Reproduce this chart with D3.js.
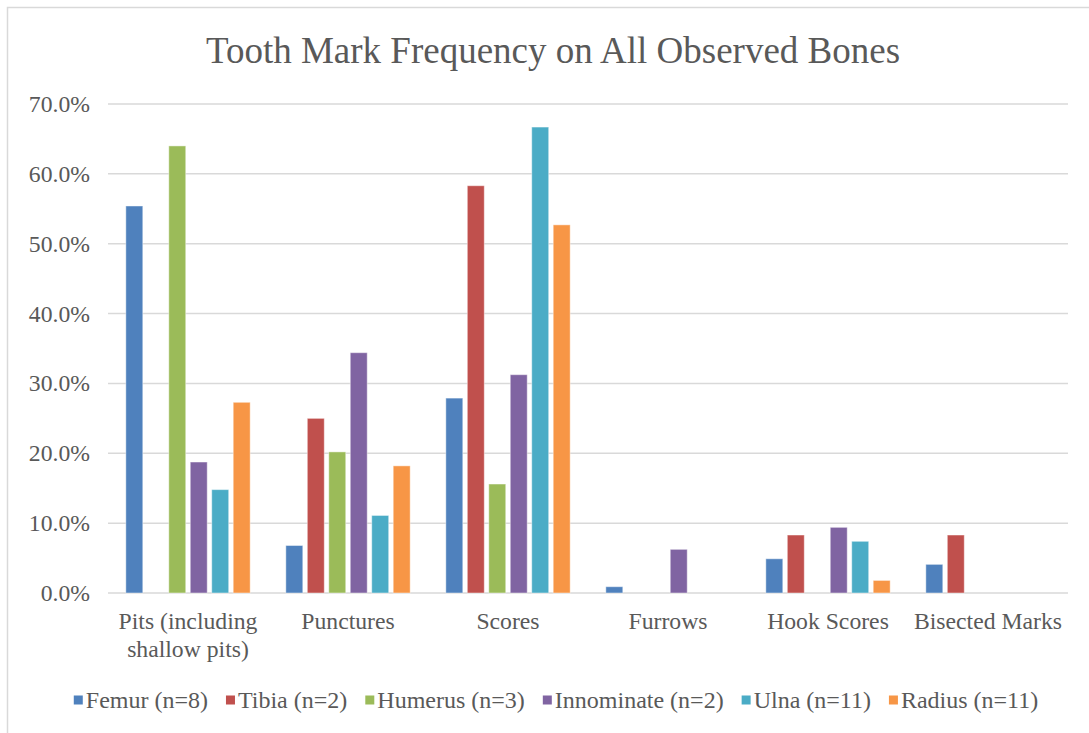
<!DOCTYPE html>
<html>
<head>
<meta charset="utf-8">
<script src="https://cdn.jsdelivr.net/npm/d3@7"></script>
<style>
  html, body { margin: 0; padding: 0; background: #fff; }
  svg { display: block; }
</style>
</head>
<body>
<svg id="chart" width="1089" height="733"></svg>
<script>
// Mark types on the x axis (each may wrap to two lines)
const categories = [
  "Pits (including shallow pits)",
  "Punctures",
  "Scores",
  "Furrows",
  "Hook Scores",
  "Bisected Marks"
];
const categoryLines = [
  ["Pits (including", "shallow pits)"],
  ["Punctures"],
  ["Scores"],
  ["Furrows"],
  ["Hook Scores"],
  ["Bisected Marks"]
];

// Bone series and their sample sizes
const seriesNames = [
  "Femur (n=8)",
  "Tibia (n=2)",
  "Humerus (n=3)",
  "Innominate (n=2)",
  "Ulna (n=11)",
  "Radius (n=11)"
];
const seriesColors = ["#4F81BD", "#C0504D", "#9BBB59", "#8064A2", "#4BACC6", "#F79646"];

// Frequency of each mark type, one array per bone (fraction of marks)
const femur      = [0.554, 0.068, 0.279, 0.009, 0.049, 0.041];
const tibia      = [0.000, 0.250, 0.583, 0.000, 0.083, 0.083];
const humerus    = [0.640, 0.202, 0.156, 0.000, 0.000, 0.000];
const innominate = [0.1875, 0.344, 0.3125, 0.0625, 0.094, 0.000];
const ulna       = [0.148, 0.111, 0.667, 0.000, 0.074, 0.000];
const radius     = [0.273, 0.182, 0.527, 0.000, 0.018, 0.000];
const seriesValues = [femur, tibia, humerus, innominate, ulna, radius];

// Y axis ticks
const yTicks = [0, 0.1, 0.2, 0.3, 0.4, 0.5, 0.6, 0.7];

const titleText = "Tooth Mark Frequency on All Observed Bones";

// ---- layout ----
const W = 1089, H = 733;
const plot = { left: 108, right: 1068, top: 104, bottom: 593 };
const FONT = '"Liberation Serif"';
const INK = "#595959";

const svg = d3.select("#chart");

// chart frame
svg.append("rect")
  .attr("x", 7.5).attr("y", 7.5)
  .attr("width", W + 20).attr("height", H + 20)
  .attr("fill", "#fff")
  .attr("stroke", "#d9d9d9").attr("stroke-width", 1.5);

const x0 = d3.scaleBand()
  .domain(categories)
  .range([plot.left, plot.right])
  .paddingInner(0).paddingOuter(0);

const x1 = d3.scaleBand()
  .domain(seriesNames)
  .range([0, x0.bandwidth()])
  .paddingInner(0.21)
  .paddingOuter(0.83);

const y = d3.scaleLinear()
  .domain([0, 0.7])
  .range([plot.bottom, plot.top]);

// helper: serif text vertically centred on yPos
function label(sel, x, yPos, size) {
  return sel
    .attr("x", x).attr("y", yPos)
    .attr("dy", "0.34em")
    .attr("font-family", FONT)
    .attr("font-size", size)
    .attr("fill", INK);
}

// gridlines
svg.append("g")
  .selectAll("line")
  .data(yTicks)
  .join("line")
  .attr("x1", plot.left).attr("x2", plot.right)
  .attr("y1", d => y(d)).attr("y2", d => y(d))
  .attr("stroke", "#d9d9d9").attr("stroke-width", 1.5);

// y tick labels
const fmt = d3.format(".1%");
svg.append("g")
  .selectAll("text")
  .data(yTicks)
  .join("text")
  .each(function(d) { label(d3.select(this), 90, y(d), 23.7); })
  .attr("text-anchor", "end")
  .text(d => fmt(d));

// bars
const groups = svg.append("g")
  .selectAll("g")
  .data(categories)
  .join("g")
  .attr("transform", d => `translate(${x0(d)},0)`);

groups.selectAll("rect")
  .data((c, ci) => seriesNames.map((s, si) => ({ s, si, v: seriesValues[si][ci] })))
  .join("rect")
  .filter(d => d.v > 0)
  .attr("x", d => x1(d.s))
  .attr("width", x1.bandwidth())
  .attr("y", d => y(d.v))
  .attr("height", d => y(0) - y(d.v))
  .attr("fill", d => seriesColors[d.si])
  .attr("stroke", "rgba(255,255,255,0.45)")
  .attr("stroke-width", 1);

// category labels
const catG = svg.append("g");
categories.forEach((c, i) => {
  const cx = x0(c) + x0.bandwidth() / 2;
  categoryLines[i].forEach((line, li) => {
    catG.append("text")
      .call(s => label(s, cx, 621 + li * 28, 23.7))
      .attr("text-anchor", "middle")
      .text(line);
  });
});

// title
svg.append("text")
  .call(s => label(s, 553, 50, 37))
  .attr("text-anchor", "middle")
  .text(titleText);

// legend
const legend = svg.append("g");
const legendItems = legend.selectAll("g")
  .data(seriesNames)
  .join("g");
legendItems.append("rect")
  .attr("width", 9).attr("height", 9)
  .attr("y", -4.5)
  .attr("fill", (d, i) => seriesColors[i]);
legendItems.append("text")
  .each(function() { label(d3.select(this), 12, 0, 24); })
  .text(d => d);

const itemGap = 18;
let cursor = 0;
legendItems.each(function() {
  const g = d3.select(this);
  const tw = g.select("text").node().getComputedTextLength();
  g.attr("transform", `translate(${cursor},0)`);
  cursor += 12 + tw + itemGap;
});
const legendWidth = cursor - itemGap;
legend.attr("transform", `translate(${556 - legendWidth / 2},700)`);
</script>
</body>
</html>
